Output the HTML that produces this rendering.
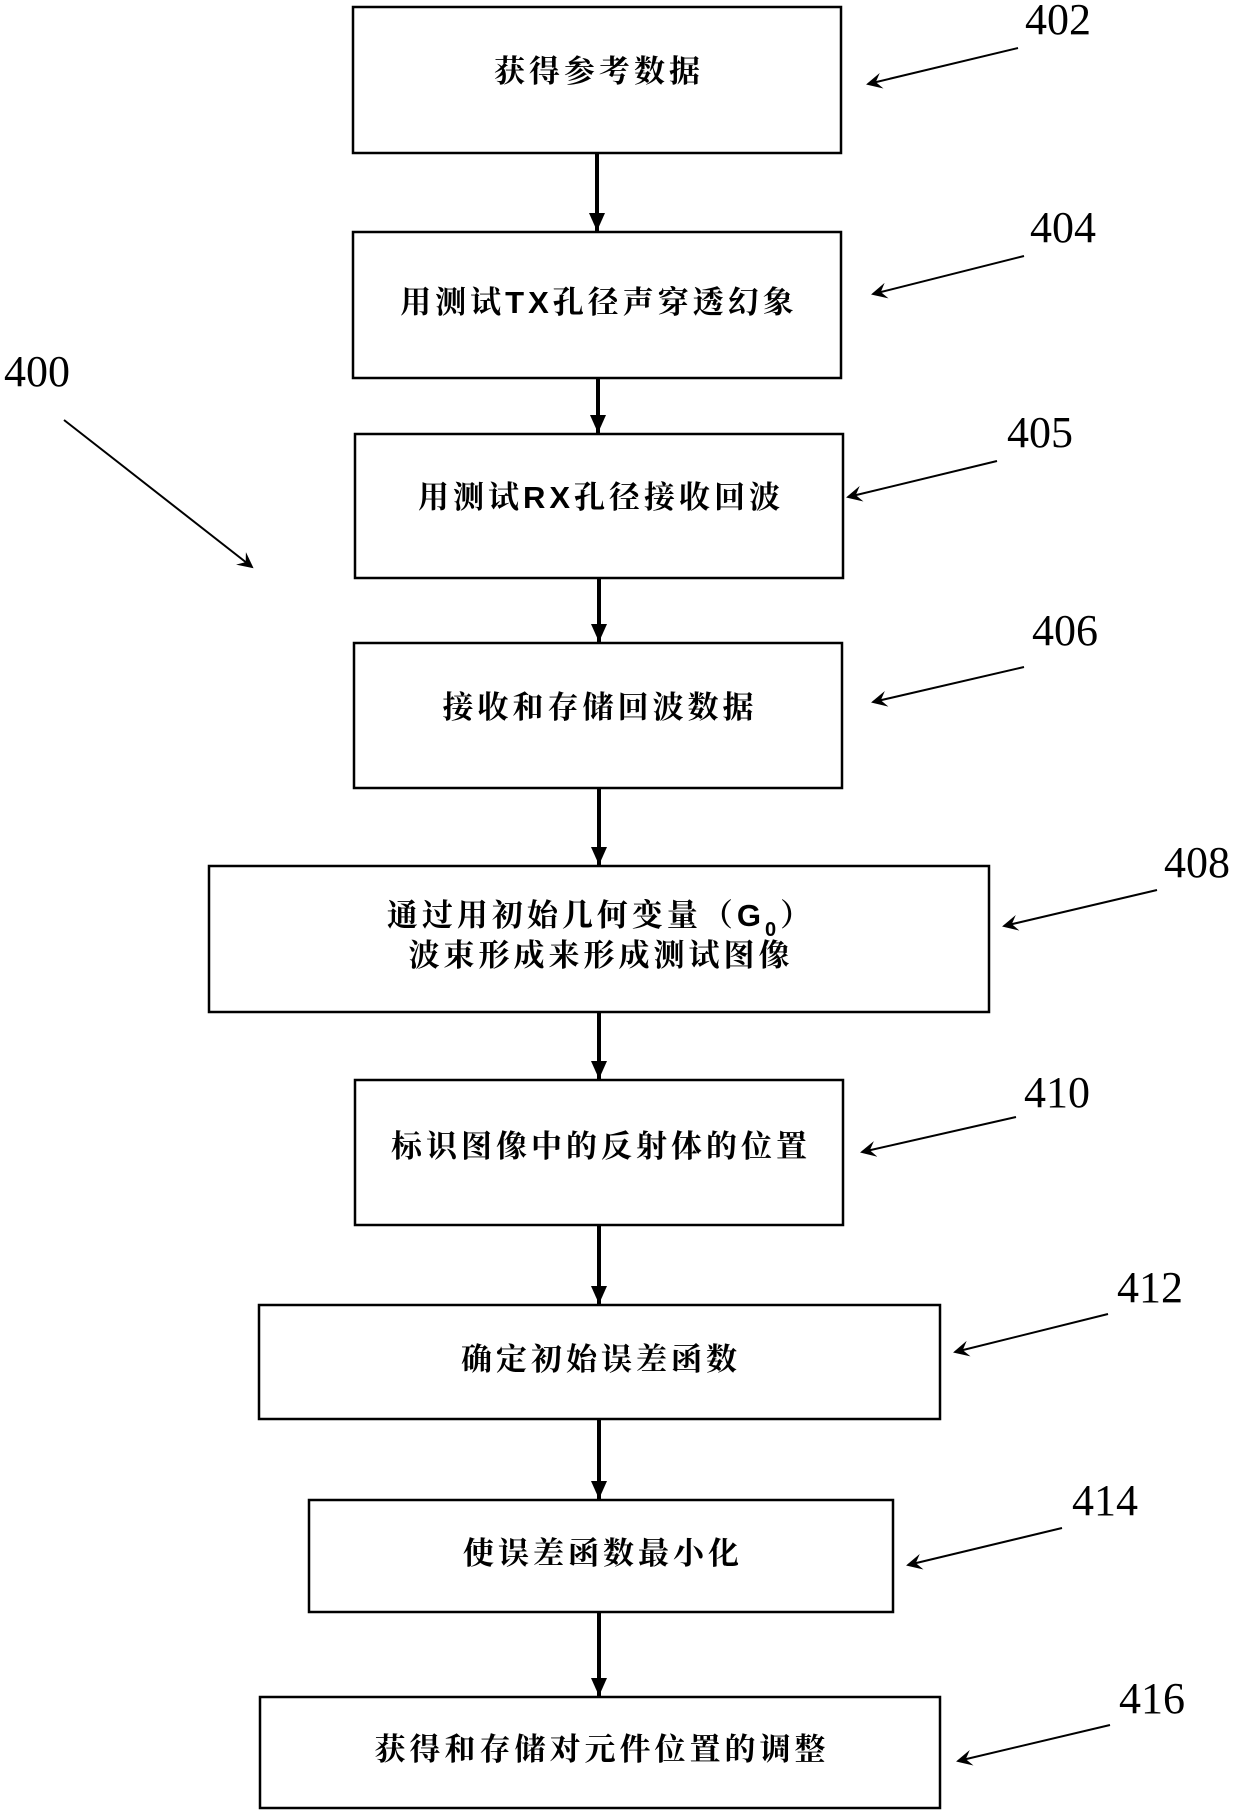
<!DOCTYPE html>
<html><head><meta charset="utf-8"><style>
html,body{margin:0;padding:0;background:#fff;}
svg{display:block;}
.t{font-family:"Liberation Sans","Noto Serif CJK SC","Noto Sans CJK SC",serif;font-weight:bold;font-size:31px;letter-spacing:4px;fill:#000;text-anchor:middle;}
.n{font-family:"Liberation Serif",serif;font-size:44px;fill:#000;text-anchor:middle;}
</style></head><body>
<svg width="1240" height="1813" viewBox="0 0 1240 1813" xmlns="http://www.w3.org/2000/svg">
<defs>
<marker id="b" markerWidth="16" markerHeight="16" refX="14" refY="8" orient="auto" markerUnits="userSpaceOnUse"><path d="M0,0 L16,8 L0,16 L6,8 Z" fill="#000"/></marker>
<marker id="v" markerWidth="20" markerHeight="20" refX="18" refY="10" orient="auto" markerUnits="userSpaceOnUse"><path d="M0,2 L18,10 L0,18 Z" fill="#000"/></marker>
</defs>
<g fill="none" stroke="#000" stroke-width="2.5">
<rect x="353" y="7" width="488" height="146"/>
<rect x="353" y="232" width="488" height="146"/>
<rect x="355" y="434" width="488" height="144"/>
<rect x="354" y="643" width="488" height="145"/>
<rect x="209" y="866" width="780" height="146"/>
<rect x="355" y="1080" width="488" height="145"/>
<rect x="259" y="1305" width="681" height="114"/>
<rect x="309" y="1500" width="584" height="112"/>
<rect x="260" y="1697" width="680" height="111"/>
</g>
<g stroke="#000" stroke-width="4" marker-end="url(#v)">
<line x1="597" y1="153" x2="597" y2="231"/>
<line x1="598" y1="378" x2="598" y2="433"/>
<line x1="599" y1="578" x2="599" y2="642"/>
<line x1="599" y1="788" x2="599" y2="865"/>
<line x1="599" y1="1012" x2="599" y2="1079"/>
<line x1="599" y1="1225" x2="599" y2="1304"/>
<line x1="599" y1="1419" x2="599" y2="1499"/>
<line x1="599" y1="1612" x2="599" y2="1696"/>
</g>
<g stroke="#000" stroke-width="2" marker-end="url(#b)">
<line x1="1018" y1="48" x2="868" y2="84"/>
<line x1="1024" y1="256" x2="873" y2="294"/>
<line x1="997" y1="461" x2="848" y2="497"/>
<line x1="1024" y1="667" x2="873" y2="702"/>
<line x1="1157" y1="890" x2="1004" y2="926"/>
<line x1="1016" y1="1117" x2="862" y2="1152"/>
<line x1="1108" y1="1314" x2="955" y2="1352"/>
<line x1="1062" y1="1528" x2="908" y2="1565"/>
<line x1="1110" y1="1725" x2="958" y2="1761"/>
<line x1="64" y1="420" x2="252" y2="567"/>
</g>
<text class="n" x="1058" y="34">402</text>
<text class="n" x="1063" y="242">404</text>
<text class="n" x="1040" y="447">405</text>
<text class="n" x="1065" y="645">406</text>
<text class="n" x="1197" y="877">408</text>
<text class="n" x="1057" y="1107">410</text>
<text class="n" x="1150" y="1302">412</text>
<text class="n" x="1105" y="1515">414</text>
<text class="n" x="1152" y="1713">416</text>
<text class="n" x="37" y="386">400</text>
<text class="t" x="599" y="82">获得参考数据</text>
<text class="t" x="599" y="313">用测试TX孔径声穿透幻象</text>
<text class="t" x="601" y="508">用测试RX孔径接收回波</text>
<text class="t" x="600" y="718">接收和存储回波数据</text>
<text class="t" x="601" y="926">通过用初始几何变量（G<tspan font-size="20" dy="10">0</tspan><tspan dy="-10">）</tspan></text>
<text class="t" x="601" y="966">波束形成来形成测试图像</text>
<text class="t" x="601" y="1157">标识图像中的反射体的位置</text>
<text class="t" x="601" y="1370">确定初始误差函数</text>
<text class="t" x="603" y="1564">使误差函数最小化</text>
<text class="t" x="602" y="1760">获得和存储对元件位置的调整</text>
</svg>
</body></html>
